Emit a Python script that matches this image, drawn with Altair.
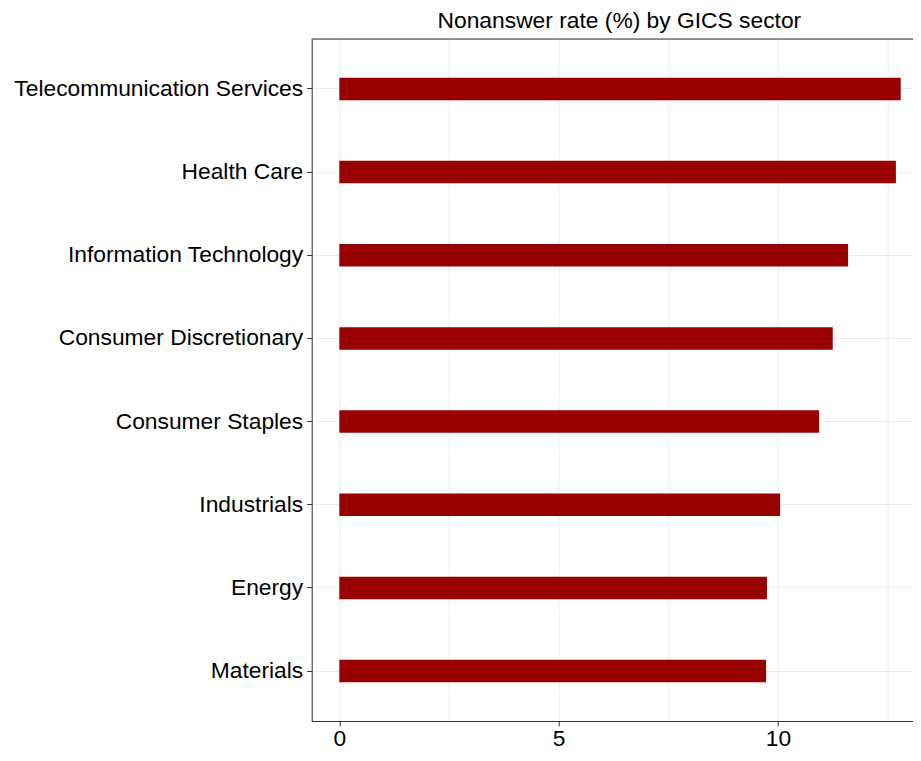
import altair as alt
import pandas as pd

sectors = [
    "Telecommunication Services",
    "Health Care",
    "Information Technology",
    "Consumer Discretionary",
    "Consumer Staples",
    "Industrials",
    "Energy",
    "Materials",
]
rates = [12.80, 12.69, 11.60, 11.25, 10.94, 10.05, 9.75, 9.73]
x_grid_values = [0, 2.5, 5, 7.5, 10, 12.5]
title_text = "Nonanswer rate (%) by GICS sector"

df = pd.DataFrame({"sector": sectors, "rate": rates})

W = 601.3
H = 682.0
FONT = "Liberation Sans"
FS = 22.8
DARK = "#333333"
GRID = "#EBEBEB"

bars = alt.Chart(df).mark_bar(
    color="#990000", height=alt.RelativeBandSize(0.27)
).encode(
    x=alt.X(
        "rate:Q",
        scale=alt.Scale(domain=[-0.63, 13.08], nice=False, zero=False),
        axis=alt.Axis(
            title=None,
            values=x_grid_values,
            labelExpr="datum.value % 5 == 0 ? '' + datum.value : ''",
            tickOpacity={"condition": {"test": "datum.value % 5 != 0", "value": 0}, "value": 1},
            tickSize=5,
            tickColor=DARK,
            labelPadding=1,
            labelFont=FONT,
            labelFontSize=FS,
            labelColor="black",
            domainColor=DARK,
            domainWidth=1,
            grid=True,
            gridColor=GRID,
            gridWidth=1,
        ),
    ),
    y=alt.Y(
        "sector:N",
        sort=sectors,
        scale=alt.Scale(paddingInner=0, paddingOuter=0.1),
        axis=alt.Axis(
            title=None,
            tickSize=5,
            tickColor=DARK,
            labelPadding=4,
            labelLimit=0,
            labelFont=FONT,
            labelFontSize=FS,
            labelColor="black",
            domainColor=DARK,
            domainWidth=1,
            grid=True,
            gridColor=GRID,
            gridWidth=1,
        ),
    ),
)

top_line = alt.Chart(pd.DataFrame({"k": [0]})).mark_rule(
    color=DARK, strokeWidth=1
).encode(x=alt.value(0), x2=alt.value(W), y=alt.value(0))

chart = alt.layer(bars, top_line).properties(
    width=W,
    height=H,
    title=alt.TitleParams(
        text=title_text,
        font=FONT,
        fontSize=FS,
        fontWeight="normal",
        color="black",
        anchor="middle",
        baseline="alphabetic",
        offset=12.7,
        dx=7,
        dy=24.5,
    ),
    autosize=alt.AutoSizeParams(type="none"),
    padding={"left": 303.7, "top": 31, "right": 0, "bottom": 31},
).configure_view(stroke=None).configure(background="white")

chart.save("out.html", embed_options={"renderer": "svg", "actions": False})
